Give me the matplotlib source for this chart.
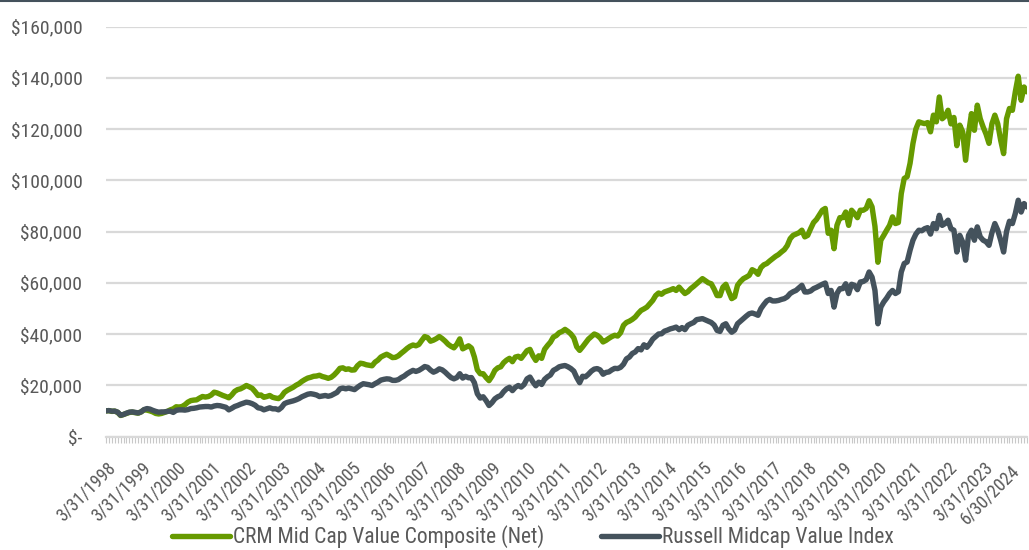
import matplotlib
matplotlib.use("Agg")
import matplotlib.pyplot as plt
from matplotlib.lines import Line2D
from matplotlib import font_manager as fm
import numpy as np

# Monthly values (USD thousands), Mar 1998 .. Jun 2024
crm = {
    1998: [10.0, 10.1, 9.8, 9.9, 9.4, 8.2, 8.6, 9.0, 9.4, 9.5],
    1999: [9.3, 9.1, 9.6, 10.4, 10.3, 10.0, 9.6, 9.0, 8.8, 9.0, 9.4, 9.8],
    2000: [10.4, 10.8, 11.6, 11.5, 11.7, 12.4, 13.4, 14.0, 14.2, 14.3, 15.0, 15.6],
    2001: [15.4, 15.6, 16.2, 17.3, 17.0, 16.5, 16.0, 15.6, 15.1, 16.2, 17.6, 18.3],
    2002: [18.6, 19.2, 19.9, 19.4, 18.8, 17.5, 16.0, 16.2, 15.3, 15.6, 16.0, 15.3],
    2003: [15.0, 14.8, 15.6, 17.2, 18.0, 18.6, 19.2, 20.0, 20.6, 21.5, 22.2, 22.8],
    2004: [23.1, 23.5, 23.6, 23.9, 23.4, 23.1, 22.7, 23.1, 24.0, 25.2, 26.6, 26.8],
    2005: [26.2, 26.4, 25.9, 26.0, 27.6, 28.6, 28.4, 28.0, 27.8, 27.6, 29.0, 29.8],
    2006: [31.0, 31.6, 32.1, 31.5, 30.8, 30.9, 31.5, 32.5, 33.4, 34.4, 35.2, 35.7],
    2007: [35.4, 35.9, 37.5, 39.0, 38.6, 37.2, 37.6, 38.2, 39.0, 38.2, 37.2, 36.0],
    2008: [35.2, 34.6, 36.0, 38.1, 34.2, 34.8, 35.4, 34.5, 31.0, 26.0, 24.5, 24.5],
    2009: [23.0, 21.8, 23.5, 25.8, 26.8, 27.2, 28.8, 29.8, 30.5, 29.2, 31.0, 31.3],
    2010: [30.5, 32.0, 33.5, 34.0, 31.5, 29.7, 31.5, 30.5, 34.0, 35.5, 36.8, 38.8],
    2011: [39.4, 40.5, 41.0, 41.8, 41.0, 40.0, 38.5, 35.0, 33.6, 35.0, 36.5, 38.0],
    2012: [39.0, 40.0, 39.5, 38.5, 36.9, 37.5, 38.3, 39.0, 39.5, 39.2, 40.5, 43.4],
    2013: [44.5, 45.0, 45.7, 46.6, 48.0, 49.2, 49.8, 50.5, 51.8, 53.1, 55.0, 56.0],
    2014: [55.5, 56.4, 56.8, 57.2, 57.7, 57.0, 58.3, 57.0, 55.8, 56.5, 57.7, 58.6],
    2015: [59.6, 60.6, 61.6, 60.8, 60.0, 59.6, 57.5, 55.0, 55.0, 58.3, 59.4, 56.5],
    2016: [53.8, 54.5, 59.0, 60.5, 61.6, 62.2, 62.9, 65.1, 64.5, 63.3, 65.9, 67.0],
    2017: [67.5, 68.5, 69.4, 70.3, 71.0, 72.0, 72.9, 74.5, 77.2, 78.5, 79.0, 79.5],
    2018: [80.5, 77.9, 78.5, 81.1, 83.5, 84.7, 86.5, 88.3, 89.0, 79.3, 80.5, 73.3],
    2019: [82.4, 85.4, 85.4, 87.6, 82.4, 88.3, 87.0, 85.4, 88.3, 88.3, 89.0, 92.0],
    2020: [89.6, 82.0, 68.0, 76.6, 78.5, 80.5, 82.4, 85.7, 83.1, 83.5, 94.8, 100.7],
    2021: [101.4, 106.6, 114.4, 120.0, 122.8, 122.4, 122.1, 122.5, 118.9, 125.4, 122.8, 132.5],
    2022: [124.0, 125.0, 127.3, 122.0, 124.5, 113.5, 121.5, 118.9, 107.8, 118.2, 126.0, 119.5],
    2023: [129.3, 124.0, 120.8, 118.0, 114.4, 122.0, 125.4, 122.0, 115.6, 110.4, 124.0, 128.0],
    2024: [127.3, 134.5, 140.6, 131.2, 136.4, 134.5],
}
russell = {
    1998: [10.0, 10.1, 9.9, 9.9, 9.5, 8.3, 8.6, 9.1, 9.5, 9.6],
    1999: [9.4, 9.2, 9.6, 10.5, 10.9, 10.7, 10.2, 9.8, 9.5, 9.6, 9.6, 9.8],
    2000: [9.9, 9.4, 10.2, 10.4, 10.4, 10.3, 10.5, 10.9, 11.0, 11.2, 11.5, 11.6],
    2001: [11.7, 11.7, 11.5, 11.9, 12.1, 12.0, 11.7, 11.4, 10.4, 11.0, 11.7, 12.1],
    2002: [12.6, 13.0, 13.4, 13.2, 12.8, 12.2, 11.2, 11.0, 10.4, 10.8, 11.2, 10.8],
    2003: [10.8, 10.4, 11.3, 12.8, 13.3, 13.6, 13.9, 14.3, 14.8, 15.5, 16.0, 16.5],
    2004: [16.7, 16.5, 16.2, 15.6, 15.8, 16.0, 15.7, 16.0, 16.6, 17.2, 18.6, 18.9],
    2005: [18.6, 18.9, 18.6, 18.3, 19.2, 20.0, 20.6, 20.4, 20.2, 19.9, 20.6, 21.2],
    2006: [22.0, 22.3, 22.5, 22.4, 21.9, 21.9, 22.2, 23.0, 23.6, 24.5, 25.2, 25.8],
    2007: [25.4, 25.8, 26.5, 27.3, 27.0, 25.9, 25.1, 25.6, 26.4, 26.0, 25.1, 24.0],
    2008: [23.0, 22.5, 23.0, 24.5, 22.8, 23.5, 22.9, 23.0, 21.0, 16.7, 15.0, 15.5],
    2009: [14.0, 12.1, 13.2, 14.7, 15.5, 16.0, 17.5, 18.6, 19.2, 17.9, 19.2, 19.9],
    2010: [19.3, 20.3, 22.5, 23.2, 21.3, 19.8, 21.2, 20.3, 22.3, 23.3, 24.0, 25.8],
    2011: [26.4, 27.2, 27.5, 27.7, 27.2, 26.5, 25.5, 23.0, 21.0, 23.5, 23.3, 24.3],
    2012: [25.5, 26.3, 26.5, 26.0, 24.3, 25.0, 25.2, 26.0, 26.6, 26.5, 27.0, 28.2],
    2013: [30.3, 31.0, 32.4, 33.0, 34.3, 33.8, 35.8, 34.8, 36.2, 38.0, 39.0, 40.0],
    2014: [40.1, 41.1, 41.5, 42.0, 42.3, 42.7, 41.7, 42.5, 41.7, 43.4, 44.0, 44.5],
    2015: [45.6, 45.8, 46.0, 45.5, 45.0, 44.5, 43.5, 41.4, 41.0, 43.4, 44.0, 42.0],
    2016: [40.7, 41.5, 44.0, 45.0, 46.0, 47.0, 47.9, 48.2, 47.8, 47.3, 49.9, 51.5],
    2017: [52.9, 53.5, 52.9, 52.9, 53.1, 53.5, 53.8, 54.5, 55.8, 56.5, 57.0, 58.0],
    2018: [59.0, 56.4, 56.4, 56.8, 57.7, 58.2, 58.8, 59.4, 59.9, 55.8, 57.0, 50.5],
    2019: [55.8, 57.7, 57.7, 59.6, 55.8, 59.4, 59.0, 57.3, 60.3, 60.5, 61.2, 64.2],
    2020: [62.2, 57.0, 44.0, 50.5, 52.5, 54.0, 55.8, 57.0, 55.8, 56.5, 64.2, 67.5],
    2021: [68.1, 72.7, 76.6, 79.0, 80.5, 80.3, 81.1, 81.5, 79.0, 83.1, 81.1, 86.3],
    2022: [82.4, 83.1, 84.4, 81.1, 80.5, 72.0, 78.5, 75.9, 68.8, 78.5, 80.5, 76.6],
    2023: [81.8, 77.9, 76.6, 76.0, 74.6, 79.5, 83.1, 80.5, 76.6, 72.0, 80.0, 84.0],
    2024: [83.1, 87.0, 92.2, 87.6, 90.9, 89.6],
}
series_names = ["CRM Mid Cap Value Composite (Net)", "Russell Midcap Value Index"]
tick_labels = [f"3/31/{y}" for y in range(1998, 2024)] + ["6/30/2024"]
y_ticks = list(range(0, 160001, 20000))

crm_vals = np.array([v for y in sorted(crm) for v in crm[y]]) * 1000
rus_vals = np.array([v for y in sorted(russell) for v in russell[y]]) * 1000
n = len(crm_vals)
x = np.arange(n)

GREEN = "#669a00"
SLATE = "#44525c"
TXT = "#595959"
GRID = "#d9d9d9"

# pick a condensed face if one is installed
condensed = None
for f in fm.fontManager.ttflist:
    nm = f.name
    st = str(f.stretch).lower()
    if ("narrow" in nm.lower() or "condensed" in nm.lower() or "condensed" in st) \
            and f.style == "normal" and str(f.weight) in ("400", "normal", "regular", "book"):
        if condensed is None or "Liberation" in nm or "Roboto" in nm:
            condensed = f
if condensed is not None:
    base_font = fm.FontProperties(fname=condensed.fname)
    SCALE = 1.0
else:
    base_font = fm.FontProperties(family=["Roboto", "DejaVu Sans"])
    SCALE = 0.9


def fp(size):
    p = base_font.copy()
    p.set_size(size * SCALE)
    return p


fig = plt.figure(figsize=(10.29, 5.5), dpi=100)
ax = fig.add_axes([106/1029, 1 - 436.5/550, (1027-106)/1029, (436.5-26.5)/550])

ax.plot(x, crm_vals, color=GREEN, lw=3.9, solid_capstyle="round", solid_joinstyle="round", zorder=3)
ax.plot(x, rus_vals, color=SLATE, lw=3.9, solid_capstyle="round", solid_joinstyle="round", zorder=4)

ax.set_xlim(0, n - 1)
ax.set_ylim(0, 160000)
ax.set_yticks(y_ticks)
ax.set_yticklabels(["$-"] + [f"${v:,.0f}" for v in y_ticks[1:]], fontproperties=fp(14), color=TXT)
ax.tick_params(axis="y", length=0, pad=17)
ax.yaxis.grid(True, color=GRID, lw=1.6)
ax.set_axisbelow(True)

major = list(range(0, 301, 12)) + [n - 1]
ax.set_xticks(major)
ax.set_xticklabels(tick_labels[:-1] + [""], rotation=45, ha="right", va="top",
                   rotation_mode="anchor", fontproperties=fp(13), color=TXT)
# final label, placed slightly further down-left as in the reference
ax.annotate(tick_labels[-1], xy=(n - 1, 0), xycoords=ax.get_xaxis_transform(),
            xytext=(-12, -18), textcoords="offset points", rotation=45,
            ha="right", va="top", rotation_mode="anchor", fontproperties=fp(13),
            color=TXT, annotation_clip=False)
ax.set_xticks(x, minor=True)
ax.tick_params(axis="x", which="both", length=4, width=0.8, color="#c8c8c8", pad=12, direction="out")

for s in ["top", "right", "left"]:
    ax.spines[s].set_visible(False)
ax.spines["bottom"].set_color(GRID)
ax.spines["bottom"].set_linewidth(1.6)

handles = [Line2D([], [], color=GREEN, lw=3.9, solid_capstyle="round"),
           Line2D([], [], color=SLATE, lw=3.9, solid_capstyle="round")]
leg = fig.legend(handles, series_names, loc="center", bbox_to_anchor=(533/1029, 1 - 537/550),
                 ncol=2, frameon=False, prop=fp(15.5), handlelength=2.7, handletextpad=0.15,
                 columnspacing=2.6, labelcolor=TXT)

fig.add_artist(Line2D([0, 1], [0.999, 0.999], transform=fig.transFigure, color=SLATE, lw=1.5))

fig.savefig("out.png", dpi=100)
